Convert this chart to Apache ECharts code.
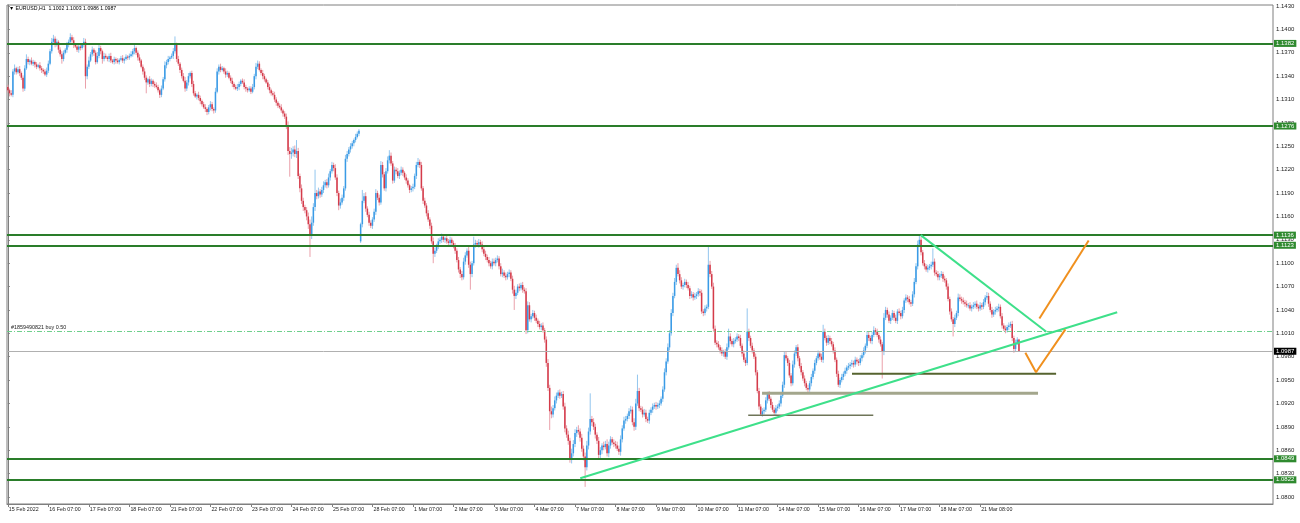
<!DOCTYPE html>
<html><head><meta charset="utf-8">
<script src="https://cdn.jsdelivr.net/npm/echarts@6/dist/echarts.min.js"></script>
<style>html,body{margin:0;padding:0;background:#fff}#c{width:1300px;height:523px}</style>
</head><body><div id="c"></div>
<script>
// EURUSD H1 — values in pips above 1.0000 (e.g. 1322 = 1.1322)
const opens = [
1326,1322,1318,1316,1346,1350,1345,1349,1344,1338,1324,1350,1362,1358,1360,1356,1358,1355,1352,1354,1350,1348,1346,1342,
1347,1356,1372,1384,1388,1380,1384,1374,1368,1362,1370,1374,1380,1384,1390,1386,1380,1378,1374,1378,1376,1380,1384,1340,
1352,1360,1368,1374,1370,1358,1366,1376,1372,1362,1366,1364,1362,1366,1360,1358,1362,1360,1358,1361,1363,1360,1362,1365,
1364,1366,1368,1372,1376,1370,1364,1360,1352,1346,1338,1332,1336,1330,1334,1330,1328,1326,1322,1316,1324,1336,1354,1358,
1362,1364,1366,1372,1380,1362,1356,1348,1340,1334,1324,1332,1340,1344,1330,1318,1314,1316,1312,1308,1304,1300,1298,1294,
1300,1304,1298,1296,1320,1346,1352,1348,1350,1346,1342,1344,1338,1334,1330,1326,1324,1326,1330,1334,1332,1326,1324,1322,
1324,1320,1326,1340,1352,1356,1348,1344,1340,1336,1332,1326,1322,1318,1316,1310,1306,1302,1300,1296,1292,1288,1276,1244,
1240,1242,1246,1240,1244,1212,1196,1180,1172,1168,1160,1150,1136,1152,1172,1190,1186,1192,1188,1194,1200,1204,1200,1210,
1218,1226,1222,1210,1190,1174,1178,1184,1196,1234,1240,1246,1250,1254,1258,1262,1266,1128,1150,1180,1186,1170,1162,1152,
1148,1156,1166,1190,1184,1178,1226,1214,1196,1218,1232,1238,1228,1206,1220,1218,1212,1216,1220,1216,1210,1206,1200,1194,
1196,1198,1212,1226,1230,1226,1196,1180,1174,1164,1156,1148,1128,1112,1116,1122,1128,1130,1134,1130,1132,1128,1126,1130,
1126,1122,1116,1104,1092,1086,1082,1102,1110,1116,1098,1086,1100,1124,1126,1124,1127,1124,1118,1112,1108,1104,1100,1096,
1102,1100,1104,1106,1096,1086,1088,1084,1082,1086,1088,1080,1066,1058,1062,1070,1068,1072,1066,1064,1014,1046,1028,1032,
1036,1030,1026,1022,1018,1020,1014,1002,972,940,910,906,914,924,930,934,930,932,916,888,880,872,848,856,
868,882,886,884,876,862,852,838,866,884,900,896,890,880,872,854,860,866,864,868,856,866,874,870,
868,866,862,858,874,888,898,900,904,910,912,896,890,920,936,914,912,906,908,900,898,908,912,916,
918,916,918,920,926,938,960,974,992,1010,1036,1058,1076,1094,1086,1078,1070,1072,1076,1072,1068,1058,1060,1056,
1058,1060,1064,1062,1038,1036,1042,1044,1098,1086,1070,1016,998,996,992,988,984,986,980,992,1006,1000,996,1000,
1002,1006,1004,994,984,976,972,1012,1004,994,988,980,960,936,916,906,910,912,924,932,926,918,912,908,
914,916,920,930,944,982,978,972,956,946,970,984,992,978,968,960,952,946,940,938,946,954,962,972,
978,984,980,976,1012,1004,998,1004,1000,996,988,976,958,944,950,954,958,962,966,968,970,972,970,976,
974,972,978,982,988,994,1008,1004,1000,1008,1014,1012,1008,1002,996,986,1030,1040,1034,1026,1030,1036,1030,1026,
1038,1036,1032,1040,1052,1056,1054,1050,1048,1060,1076,1096,1124,1130,1114,1100,1096,1092,1094,1096,1098,1102,1088,1086,
1082,1084,1086,1080,1078,1070,1054,1038,1028,1022,1030,1036,1056,1054,1052,1050,1048,1046,1046,1042,1044,1046,1048,1044,
1042,1046,1044,1050,1056,1058,1048,1040,1034,1038,1040,1042,1044,1032,1020,1016,1014,1018,1020,1022,1004,990,998,1002
];
const closes = [
1322,1318,1316,1346,1350,1345,1349,1344,1338,1324,1350,1362,1358,1360,1356,1358,1355,1352,1354,1350,1348,1346,1342,1347,
1356,1372,1384,1388,1380,1384,1374,1368,1362,1370,1374,1380,1384,1390,1386,1380,1378,1374,1378,1376,1380,1384,1340,1352,
1360,1368,1374,1370,1358,1366,1376,1372,1362,1366,1364,1362,1366,1360,1358,1362,1360,1358,1361,1363,1360,1362,1365,1364,
1366,1368,1372,1376,1370,1364,1360,1352,1346,1338,1332,1336,1330,1334,1330,1328,1326,1322,1316,1324,1336,1354,1358,1362,
1364,1366,1372,1380,1362,1356,1348,1340,1334,1324,1332,1340,1344,1330,1318,1314,1316,1312,1308,1304,1300,1298,1294,1300,
1304,1298,1296,1320,1346,1352,1348,1350,1346,1342,1344,1338,1334,1330,1326,1324,1326,1330,1334,1332,1326,1324,1322,1324,
1320,1326,1340,1352,1356,1348,1344,1340,1336,1332,1326,1322,1318,1316,1310,1306,1302,1300,1296,1292,1288,1276,1244,1240,
1242,1246,1240,1244,1212,1196,1180,1172,1168,1160,1150,1136,1152,1172,1190,1186,1192,1188,1194,1200,1204,1200,1210,1218,
1226,1222,1210,1190,1174,1178,1184,1196,1234,1240,1246,1250,1254,1258,1262,1266,1270,1150,1180,1186,1170,1162,1152,1148,
1156,1166,1190,1184,1178,1226,1214,1196,1218,1232,1238,1228,1206,1220,1218,1212,1216,1220,1216,1210,1206,1200,1194,1196,
1198,1212,1226,1230,1226,1196,1180,1174,1164,1156,1148,1128,1112,1116,1122,1128,1130,1134,1130,1132,1128,1126,1130,1126,
1122,1116,1104,1092,1086,1082,1102,1110,1116,1098,1086,1100,1124,1126,1124,1127,1124,1118,1112,1108,1104,1100,1096,1102,
1100,1104,1106,1096,1086,1088,1084,1082,1086,1088,1080,1066,1058,1062,1070,1068,1072,1066,1064,1014,1046,1028,1032,1036,
1030,1026,1022,1018,1020,1014,1002,972,940,910,906,914,924,930,934,930,932,916,888,880,872,848,856,868,
882,886,884,876,862,852,838,866,884,900,896,890,880,872,854,860,866,864,868,856,866,874,870,868,
866,862,858,874,888,898,900,904,910,912,896,890,920,936,914,912,906,908,900,898,908,912,916,918,
916,918,920,926,938,960,974,992,1010,1036,1058,1076,1094,1086,1078,1070,1072,1076,1072,1068,1058,1060,1056,1058,
1060,1064,1062,1038,1036,1042,1044,1098,1086,1070,1016,998,996,992,988,984,986,980,992,1006,1000,996,1000,1002,
1006,1004,994,984,976,972,1012,1004,994,988,980,960,936,916,906,910,912,924,932,926,918,912,908,914,
916,920,930,944,982,978,972,956,946,970,984,992,978,968,960,952,946,940,938,946,954,962,972,978,
984,980,976,1012,1004,998,1004,1000,996,988,976,958,944,950,954,958,962,966,968,970,972,970,976,974,
972,978,982,988,994,1008,1004,1000,1008,1014,1012,1008,1002,996,986,1030,1040,1034,1026,1030,1036,1030,1026,1038,
1036,1032,1040,1052,1056,1054,1050,1048,1060,1076,1096,1124,1130,1114,1100,1096,1092,1094,1096,1098,1102,1088,1086,1082,
1084,1086,1080,1078,1070,1054,1038,1028,1022,1030,1036,1056,1054,1052,1050,1048,1046,1046,1042,1044,1046,1048,1044,1042,
1046,1044,1050,1056,1058,1048,1040,1034,1038,1040,1042,1044,1032,1020,1016,1014,1018,1020,1022,1004,990,998,1002,987
];
// wick lengths (pips) above the body and below the body
const upperWicks = [
3,2,4,3,5,2,3,4,2,3,4,6,3,2,4,3,2,3,2,4,3,2,3,4,
4,3,5,5,3,4,2,3,4,3,2,4,3,5,3,4,2,3,4,3,2,5,4,3,
5,3,4,2,3,5,4,3,2,4,3,2,3,4,2,3,2,3,2,3,4,2,3,2,
3,4,3,5,2,3,4,2,3,4,3,2,4,3,2,3,4,3,2,4,3,5,3,4,
2,3,4,11,3,4,2,3,4,5,3,4,2,3,4,3,2,4,3,2,3,4,2,3,
4,3,2,5,4,3,4,3,2,4,3,2,3,4,2,3,4,3,2,3,4,3,2,3,
3,4,3,5,4,3,2,4,3,2,3,4,2,3,4,3,2,3,4,2,3,4,6,5,
6,4,5,14,4,3,5,4,3,4,5,6,8,5,30,4,5,3,4,5,3,4,5,3,
4,3,5,4,3,5,4,3,5,4,3,4,3,2,4,3,2,2,14,4,5,3,4,3,
3,4,5,3,4,5,4,3,4,5,7,4,3,4,3,4,3,4,3,2,4,3,2,3,
4,3,4,5,3,4,3,4,3,4,3,4,5,4,3,4,3,4,3,2,4,3,4,3,
3,4,3,4,3,4,5,4,3,5,4,3,10,4,3,4,3,4,3,4,3,4,3,4,
4,3,4,3,4,5,3,4,3,4,3,4,5,4,3,4,3,4,3,4,5,4,3,4,
3,4,3,4,3,4,3,4,5,4,6,4,5,4,3,4,3,4,5,4,5,4,6,5,
5,4,6,4,5,4,5,6,5,33,4,5,4,3,5,4,3,5,4,6,5,4,3,4,
4,5,4,5,4,5,4,3,4,5,4,5,6,21,4,3,4,5,4,3,4,3,4,3,
4,3,4,3,4,5,4,5,4,5,4,5,4,6,5,4,3,4,3,4,3,4,3,4,
3,4,3,4,3,4,3,23,5,4,5,4,3,4,3,4,3,4,5,10,4,3,4,3,
4,3,4,3,4,3,30,4,3,4,3,4,3,4,3,4,3,4,3,4,3,4,3,4,
3,4,3,4,5,4,3,4,3,5,4,3,4,3,4,3,4,3,4,3,4,3,4,3,
4,3,4,9,4,3,4,3,4,3,4,3,4,3,4,3,4,3,4,3,4,3,4,3,
3,4,3,4,3,5,4,3,4,5,3,4,3,4,3,6,4,3,4,3,4,3,4,3,
4,3,4,3,4,3,4,3,4,5,4,5,5,4,3,4,3,4,3,4,17,4,3,4,
3,4,3,4,3,4,3,4,3,4,3,5,4,3,4,3,4,3,4,3,4,3,4,3,
4,3,4,3,5,4,3,4,3,4,3,4,3,4,3,4,3,4,3,4,3,4,3,1
];
const lowerWicks = [
3,4,2,3,4,3,2,4,3,4,3,2,3,4,2,3,4,3,2,3,4,3,2,3,
3,2,3,4,3,2,4,3,6,3,2,4,3,2,3,4,2,3,4,3,2,3,16,4,
3,2,3,4,3,2,3,4,6,3,2,3,4,3,2,3,4,2,3,2,3,4,2,3,
3,2,3,4,3,4,3,2,4,3,14,3,4,3,4,3,2,3,4,3,2,3,4,3,
3,2,4,3,4,3,4,3,2,4,3,4,3,4,3,2,4,3,4,3,2,4,4,3,
4,3,4,3,2,4,3,2,3,4,3,2,3,4,3,2,3,4,3,2,3,4,3,2,
3,2,3,4,3,2,3,4,3,2,3,4,3,2,3,4,3,2,3,4,3,4,5,29,
6,5,4,5,4,5,4,5,4,5,6,28,5,4,5,4,3,4,3,4,3,4,3,4,
3,4,3,4,6,4,3,4,3,4,3,4,3,4,3,2,3,2,4,3,4,3,4,3,
4,3,4,3,4,3,4,3,4,3,4,3,4,3,4,3,4,3,4,3,4,3,4,3,
4,3,4,3,4,3,4,3,4,3,4,3,12,4,3,4,3,4,3,4,3,4,3,4,
3,4,3,4,5,4,3,4,3,4,20,4,3,4,3,4,3,4,3,4,3,4,3,4,
3,4,3,4,3,4,3,4,3,4,3,5,18,4,3,4,3,4,3,5,4,3,4,3,
4,3,4,3,4,3,4,5,4,24,5,4,3,4,3,4,3,4,5,4,5,4,5,4,
4,5,4,5,4,5,25,4,5,4,5,4,5,4,5,4,5,4,3,4,5,4,3,4,
4,3,4,5,4,3,4,3,4,3,4,5,4,3,4,3,4,3,4,3,4,3,4,3,
4,3,4,3,4,3,4,3,4,3,4,3,4,3,4,3,4,3,4,3,4,3,4,3,
4,3,4,3,4,3,4,3,4,3,4,3,4,3,4,3,4,3,4,3,4,3,4,3,
3,4,3,4,3,4,3,4,3,4,3,4,3,4,1,3,4,3,4,3,4,3,3,4,
4,3,4,3,4,3,4,3,4,3,4,3,4,3,4,3,4,3,4,3,4,3,4,3,
3,4,3,4,3,4,3,4,3,4,3,4,3,4,3,4,3,4,3,4,3,4,3,4,
4,3,4,3,4,3,4,3,4,3,4,3,4,3,34,4,3,4,3,4,3,4,3,4,
3,4,3,4,3,4,3,4,3,4,3,4,3,4,3,4,3,4,3,4,3,4,3,4,
4,3,4,3,4,3,4,3,16,4,3,4,3,4,3,4,3,4,3,4,3,4,3,4,
3,4,3,4,3,4,3,4,3,4,3,4,3,4,3,4,3,4,3,4,5,4,3,1
];
const tickLabels = ['15 Feb 2022','16 Feb 07:00','17 Feb 07:00','18 Feb 07:00','21 Feb 07:00','22 Feb 07:00','23 Feb 07:00','24 Feb 07:00','25 Feb 07:00','28 Feb 07:00','1 Mar 07:00','2 Mar 07:00','3 Mar 07:00','4 Mar 07:00','7 Mar 07:00','8 Mar 07:00','9 Mar 07:00','10 Mar 07:00','11 Mar 07:00','14 Mar 07:00','15 Mar 07:00','16 Mar 07:00','17 Mar 07:00','18 Mar 07:00','21 Mar 08:00'];
const priceTicks = [1.0800,1.0830,1.0860,1.0890,1.0920,1.0950,1.0980,1.1010,1.1040,1.1070,1.1100,1.1130,1.1160,1.1190,1.1220,1.1250,1.1280,1.1310,1.1340,1.1370,1.1400,1.1430];
const levels = [1.1382,1.1276,1.1136,1.1123,1.0849,1.0822];
const currentPrice = 1.0987;
const orderPrice = 1.1013;
const orderText = '#1859490821 buy 0.50';
const headerText = '\u25BC EURUSD,H1  1.1002 1.1003 1.0986 1.0987';
// drawn objects: [bar index, price]
const supportLine = [[339.1,1.0824],[657.2,1.1037]];
const resistanceLine = [[540.8,1.1136],[615.2,1.1012]];
const orangeV = [[602.8,1.0985],[609.1,1.0960],[626.5,1.1015]];
const orangeUp = [[611.1,1.1029],[640.3,1.1129]];
const oliveA = [[500.1,1.0958],[621.0,1.0958]];
const oliveB = [[446.8,1.0933],[610.3,1.0933]];
const oliveC = [[438.6,1.0905],[512.7,1.0905]];

const SLOTS = 750, STEP = 24;
const P = v => 1 + v / 10000;
const categories = Array.from({length: SLOTS}, (_, i) => String(i));
const candleData = closes.map((c, i) => {
  const o = opens[i];
  return [P(o), P(c), P(Math.min(o, c) - lowerWicks[i]), P(Math.max(o, c) + upperWicks[i])];
});
const bodyData = closes.map((c, i) => [i, P(opens[i]), P(c)]);
const FONT = 'Liberation Sans';
const showTick = (idx) => idx % STEP === 0 && idx / STEP < tickLabels.length;

const chart = echarts.init(document.getElementById('c'), null, {renderer: 'canvas'});
const lineSeries = (data, color, width, z) => ({
  type: 'line', xAxisIndex: 1, yAxisIndex: 0, data, symbol: 'none', silent: true,
  lineStyle: {color, width}, z, animation: false
});
const boxLabel = (text, bg) => ({show: true, position: 'end', distance: 1, formatter: text, color: '#fff', backgroundColor: bg,
  fontSize: 6, fontFamily: FONT, padding: [1, 2, 0, 2]});
chart.setOption({
  animation: false,
  backgroundColor: '#ffffff',
  grid: {left: 7, right: 27, top: 5, bottom: 19, show: true, borderColor: '#7f7f7f', borderWidth: 1},
  graphic: [{type: 'text', left: 9, top: 6, style: {text: headerText, font: '5.2px "Liberation Sans"', fill: '#000'}}],
  xAxis: [{
    type: 'category', data: categories, boundaryGap: true,
    axisLine: {show: true, lineStyle: {color: '#7f7f7f'}},
    axisTick: {show: true, alignWithLabel: true, interval: showTick, length: 3, lineStyle: {color: '#7f7f7f'}},
    axisLabel: {interval: showTick, formatter: v => tickLabels[Number(v) / STEP], align: 'left', margin: 3,
      fontSize: 5.3, fontFamily: FONT, color: '#222', padding: [0, 0, 0, 1]},
    splitLine: {show: false}
  }, {
    type: 'value', min: -0.5, max: SLOTS - 0.5, show: false
  }],
  yAxis: [{
    type: 'value', position: 'right', min: 1.0791, max: 1.14313, scale: true,
    axisLine: {show: true, lineStyle: {color: '#7f7f7f'}},
    axisTick: {show: true, customValues: priceTicks, length: 2, lineStyle: {color: '#7f7f7f'}},
    axisLabel: {customValues: priceTicks, formatter: v => v.toFixed(4), fontSize: 6, fontFamily: FONT, color: '#222', margin: 3},
    splitLine: {show: false}
  }],
  series: [
    {
      type: 'candlestick', name: 'wicks', data: candleData, barWidth: 1, z: 2,
      itemStyle: {color: '#93c6ee', color0: '#eaa0aa', borderColor: '#93c6ee', borderColor0: '#eaa0aa', borderColorDoji: '#93c6ee', borderWidth: 1}
    },
    {
      type: 'custom', name: 'bodies', data: bodyData, z: 3, encode: {x: 0, y: [1, 2]},
      renderItem: (params, api) => {
        const i = api.value(0), o = api.value(1), c = api.value(2);
        const p1 = api.coord([i, o]), p2 = api.coord([i, c]);
        const w = api.size([1, 0])[0] * 0.9;
        const top = Math.min(p1[1], p2[1]);
        const h = Math.max(Math.abs(p1[1] - p2[1]), 1);
        return {type: 'rect', shape: {x: p1[0] - w / 2, y: top, width: w, height: h},
          style: {fill: c >= o ? '#3a9be6' : '#d43b4a'}};
      }
    },
    {
      type: 'line', name: 'levels', data: [], z: 5, silent: true,
      markLine: {
        symbol: 'none', silent: true, animation: false, precision: 5,
        data: [
          ...levels.map(v => ({yAxis: v, lineStyle: {color: '#2a7d2a', width: 2, type: 'solid'}, label: boxLabel(v.toFixed(4), '#2f8a2f')})),
          {yAxis: orderPrice, lineStyle: {color: '#6fcf8c', width: 1, type: [5, 2, 1, 2]},
            label: {show: true, position: 'insideStartTop', distance: [4, 1], formatter: orderText, color: '#222', fontSize: 5.4, fontFamily: FONT}},
          {yAxis: currentPrice, lineStyle: {color: '#b0b0b0', width: 1, type: 'solid'}, label: boxLabel(currentPrice.toFixed(4), '#000')}
        ]
      }
    },
    lineSeries(oliveB, '#a3a68c', 3, 6),
    lineSeries(oliveA, '#56632f', 2, 6),
    lineSeries(oliveC, '#6f7558', 1.5, 6),
    lineSeries(supportLine, '#3ee08a', 2, 7),
    lineSeries(resistanceLine, '#3ee08a', 2, 7),
    lineSeries(orangeV, '#f0901e', 2, 7),
    lineSeries(orangeUp, '#f0901e', 2, 7)
  ]
});
</script>
</body></html>
